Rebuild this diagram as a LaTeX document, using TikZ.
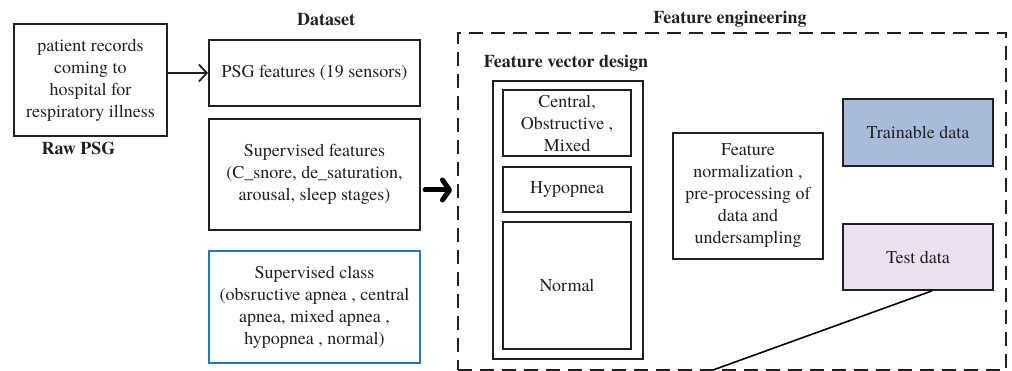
\documentclass[tikz,border=0pt]{standalone}
\usepackage{fontspec}
\setmainfont{texgyretermes}[Extension=.otf, UprightFont=*-regular, BoldFont=*-bold]
\usetikzlibrary{arrows.meta}
\definecolor{ink}{RGB}{35,31,32}
\definecolor{classblue}{RGB}{46,117,182}
\definecolor{trainfill}{RGB}{168,188,218}
\definecolor{testfill}{RGB}{234,224,239}
\tikzset{
  every node/.style={font=\fontsize{18}{22}\selectfont, text=ink},
  box/.style={draw=ink, line width=1.8pt, align=center, inner sep=0pt, rectangle},
  classbox/.style={box, draw=classblue},
  groupbox/.style={draw=ink, line width=1.8pt, dash pattern=on 14pt off 8pt, rectangle, inner sep=0pt},
  heading/.style={font=\fontsize{18}{22}\selectfont\bfseries},
  thinarrow/.style={draw=ink, line width=1.8pt, -{Straight Barb[length=8pt,width=17pt]}},
  bigarrow/.style={draw=black, line width=5pt, line cap=round, -{Straight Barb[length=7pt,width=20pt,round]}},
  link/.style={draw=black, line width=1.6pt}
}
\begin{document}
\begin{tikzpicture}[x=1pt, y=-1pt]
\useasboundingbox (0,0) rectangle (1012,371);

% raw recordings
\node[box, minimum width=153, minimum height=112] (raw) at (90.5,80)
  {patient records\\coming to\\hospital for\\respiratory illness};
\node[heading] (rawlbl) at (78.5,148) {Raw PSG};

% dataset column
\node[heading] (dslbl) at (326,20) {Dataset};
\node[box, minimum width=211, minimum height=66] (psg) at (314.5,73)
  {PSG features (19 sensors)};
\node[box, minimum width=211, minimum height=111] (sf) at (314.5,174.5)
  {Supervised features\\(C\_snore, de\_saturation,\\arousal, sleep stages)};
\node[classbox, minimum width=211, minimum height=112] (sc) at (314.5,307)
  {Supervised class\\(obsructive apnea , central\\apnea, mixed apnea ,\\hypopnea , normal)};

\draw[thinarrow] (raw.east |- psg.west) -- (psg.west);

% feature engineering group
\node[heading] (felbl) at (730,19) {Feature engineering};
\node[groupbox, minimum width=548, minimum height=337] (fe) at (732,201.5) {};

\coordinate (bigstart) at (425,190);
\coordinate (bigend) at (452,190);
\draw[bigarrow] (bigstart) -- (bigend);

% feature vector design
\node[heading] (fvdlbl) at (566,63) {Feature vector design};
\node[box, minimum width=150, minimum height=278] (fvd) at (568,220) {};
\node[box, minimum width=128, minimum height=66] (cen) at (567,123)
  {Central,\\Obstructive ,\\Mixed};
\node[box, minimum width=128, minimum height=45] (hyp) at (567,189.5) {Hypopnea};
\node[box, minimum width=128, minimum height=127] (nor) at (567,285.5) {Normal};

% preprocessing and split
\node[box, minimum width=150, minimum height=126] (norm) at (748,196)
  {Feature\\normalization ,\\pre-processing of\\data and\\undersampling};
\node[box, fill=trainfill, minimum width=150, minimum height=67] (train) at (918,132.5)
  {Trainable data};
\node[box, fill=testfill, minimum width=150, minimum height=66] (test) at (918,257)
  {Test data};

\coordinate (testend) at (713,370);
\draw[link] ([xshift=14pt]test.south) -- (testend);
\end{tikzpicture}
\end{document}
